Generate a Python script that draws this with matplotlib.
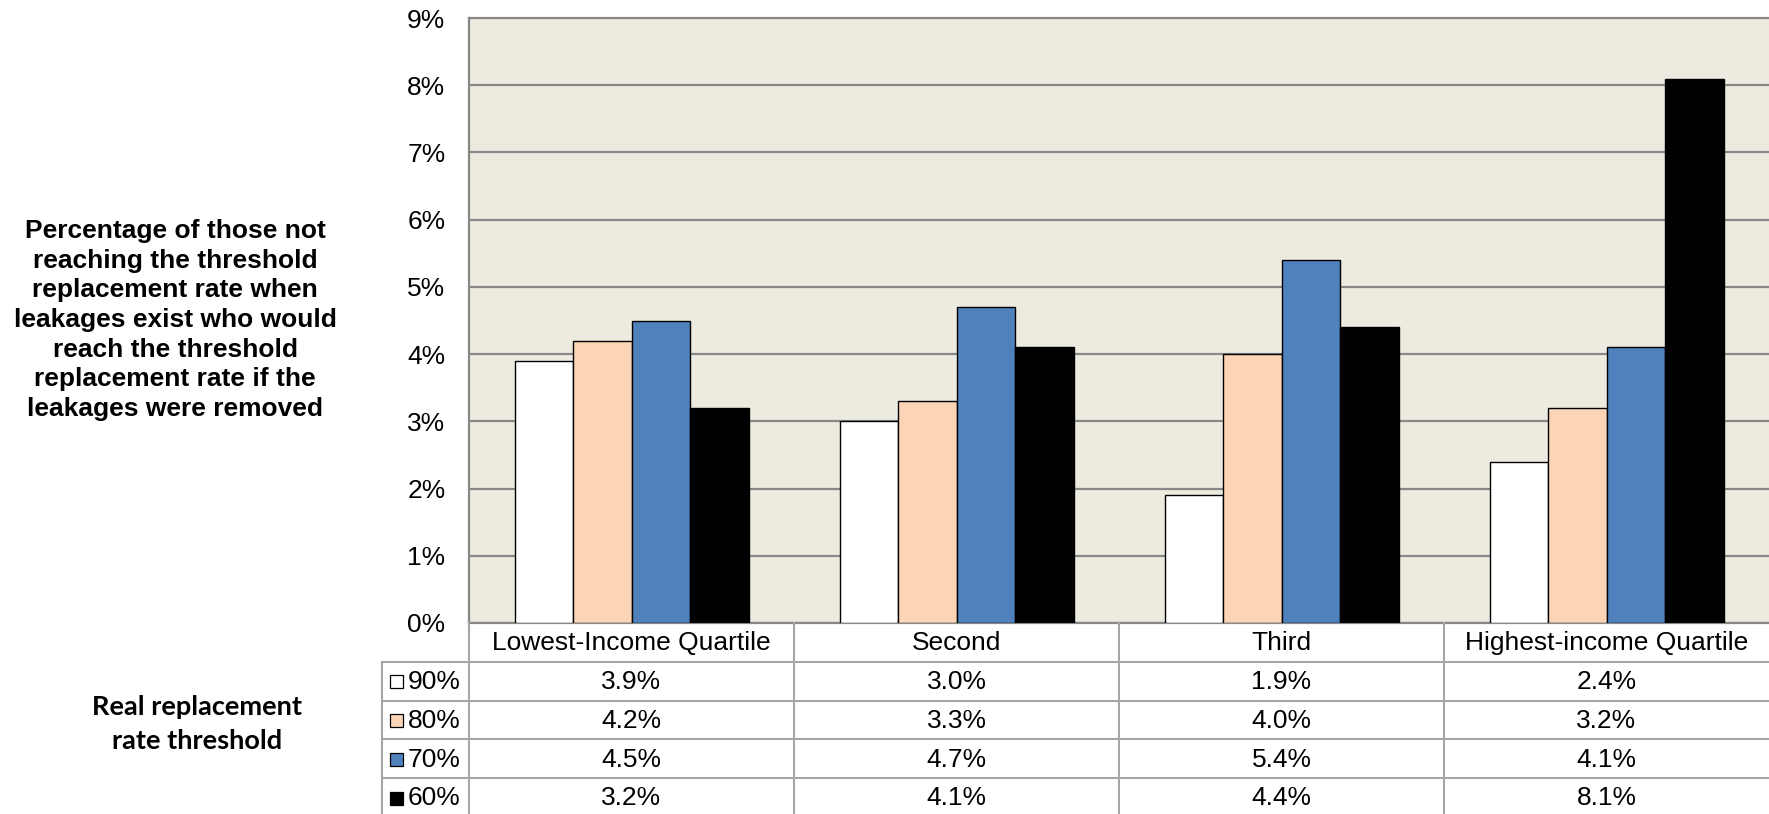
import matplotlib
matplotlib.use("Agg")
import matplotlib.pyplot as plt
from matplotlib.patches import Rectangle

# data: share who would reach the threshold replacement rate without leakages
quartiles = ["Lowest-Income Quartile", "Second", "Third", "Highest-income Quartile"]
thresholds = ["90%", "80%", "70%", "60%"]
vals_90 = [3.9, 3.0, 1.9, 2.4]
vals_80 = [4.2, 3.3, 4.0, 3.2]
vals_70 = [4.5, 4.7, 5.4, 4.1]
vals_60 = [3.2, 4.1, 4.4, 8.1]
yticks = [0, 1, 2, 3, 4, 5, 6, 7, 8, 9]

series = [vals_90, vals_80, vals_70, vals_60]
colors = ["#FFFFFF", "#FBD5B5", "#4F81BD", "#000000"]

W, H = 1769, 814
fig = plt.figure(figsize=(W / 100, H / 100), dpi=100)
plt.rcParams["font.family"] = ["Liberation Sans", "DejaVu Sans"]

grid_c = "#888888"
table_c = "#A5A5A5"
fs = 19

# plot area in pixels
px_l, px_r, px_top, px_bot = 469, 1769, 18, 623
ax = fig.add_axes([px_l / W, 1 - px_bot / H, (px_r - px_l) / W, (px_bot - px_top) / H])
ax.set_facecolor("#EDEAE0")

bw = 0.18
for k, vals in enumerate(series):
    xs = [i + 0.5 + (k - 1.5) * bw for i in range(len(quartiles))]
    ax.bar(xs, vals, width=bw, color=colors[k], edgecolor="black", linewidth=1.0, zorder=3)

ax.set_xlim(0, len(quartiles))
ax.set_ylim(0, 9)
ax.set_yticks(yticks)
ax.set_yticklabels([f"{t}%" for t in yticks], fontsize=fs)
ax.yaxis.grid(True, color=grid_c, linewidth=1.6, zorder=1)
ax.set_axisbelow(True)
ax.tick_params(axis="y", length=0, pad=17)
ax.tick_params(axis="x", length=0, labelbottom=False)
ax.spines["right"].set_visible(False)
for s in ["left", "top", "bottom"]:
    ax.spines[s].set_color(grid_c)
    ax.spines[s].set_linewidth(1.6)

# data table under the chart, sharing the category positions
row_h = 38.8
leg_w = (469 - 382) / 325.0
tb_top = 623
tb_h = row_h * 5
tax = fig.add_axes([382 / W, 1 - (tb_top + tb_h) / H, (px_r - 382) / W, tb_h / H])
tax.set_xlim(-leg_w, len(quartiles))
tax.set_ylim(5, 0)
tax.axis("off")

# header row
for i, q in enumerate(quartiles):
    tax.text(i + 0.5, 0.52, q, ha="center", va="center", fontsize=fs)
# value rows with legend keys
sq_w = 13 / 325.0
sq_h = 13 / row_h
for r, vals in enumerate(series):
    y = r + 1.52
    for i, v in enumerate(vals):
        tax.text(i + 0.5, y, f"{v:.1f}%", ha="center", va="center", fontsize=fs)
    tax.add_patch(Rectangle((-leg_w + 8 / 325.0, y - sq_h / 2), sq_w, sq_h,
                            facecolor=colors[r], edgecolor="black", linewidth=0.9,
                            clip_on=False))
    tax.text(-leg_w + 26 / 325.0, y, thresholds[r], ha="left", va="center", fontsize=fs)

# table rules
for r in range(1, 5):
    tax.plot([-leg_w, len(quartiles)], [r, r], color=table_c, lw=1.5, clip_on=False)
tax.plot([-leg_w, -leg_w], [1, 5], color=table_c, lw=1.5, clip_on=False)
for i in range(len(quartiles)):
    tax.plot([i, i], [0, 5], color=table_c, lw=1.5, clip_on=False)

# left-hand titles
fig.text(175 / W, 1 - 320 / H,
         "Percentage of those not\nreaching the threshold\nreplacement rate when\n"
         "leakages exist who would\nreach the threshold\nreplacement rate if the\n"
         "leakages were removed",
         ha="center", va="center", fontsize=19, fontweight="bold", linespacing=1.3)
fig.text(197 / W, 1 - 724 / H, "Real replacement\nrate threshold",
         ha="center", va="center", fontsize=19.5, fontweight="bold",
         family=["Lato", "DejaVu Sans"], linespacing=1.5)

fig.savefig("out.png", dpi=100)
